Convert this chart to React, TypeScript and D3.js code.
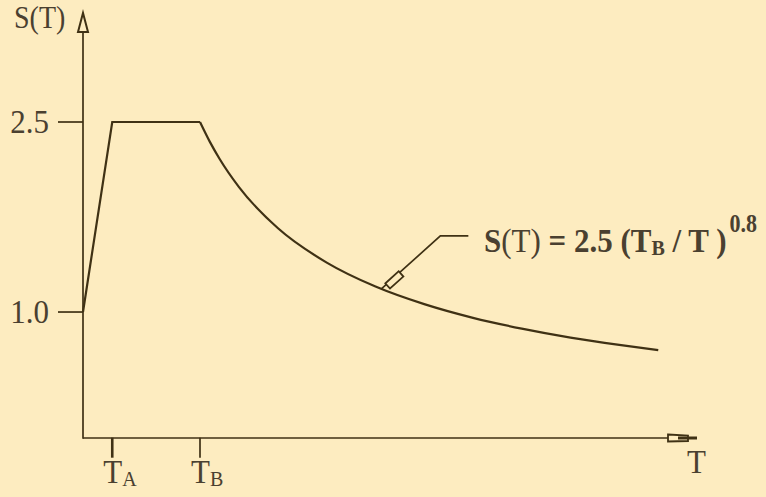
import React from "react";
import * as d3 from "d3";

// spectrum
const T_A = 0.15;
const T_B = 0.6;
const yTicks = [1.0, 2.5];
const yTickLabels = ["1.0", "2.5"];
const rampT = [0, T_A, T_B];
const rampS = [1.0, 2.5, 2.5];
const decayT = [0.6, 0.65, 0.7, 0.8, 1.0, 1.25, 1.5, 1.75, 2.0, 2.25, 2.5, 2.75, 2.95];
const decayS = [2.5, 2.345, 2.21, 1.986, 1.661, 1.39, 1.201, 1.062, 0.954, 0.869, 0.798, 0.74, 0.699];
const pointerT = 1.53;

const W = 766;
const H = 497;
const bg = "#fdecc0";
const ink = "#3f3114";
const txt = "#4a4030";
const font = "'Liberation Serif', 'Times New Roman', serif";

// serif text, slightly stretched vertically like the scan
const Label = ({ x, y, anchor = "start", size = 31, children }: any) => (
  <text transform={`translate(${x},${y}) scale(1,1.1)`} textAnchor={anchor} fontSize={size} fill={txt}>
    {children}
  </text>
);

export default function App() {
  const x = d3.scaleLinear().domain([0, 3]).range([83, 668]);
  const y = d3.scaleLinear().domain([0, 2.5]).range([438.7, 122]);
  const line = d3.line<[number, number]>().x(d => x(d[0])).y(d => y(d[1]));
  const curve = d3.line<[number, number]>().x(d => x(d[0])).y(d => y(d[1])).curve(d3.curveMonotoneX);

  const ramp = rampT.map((t, i) => [t, rampS[i]] as [number, number]);
  const decay = decayT.map((t, i) => [t, decayS[i]] as [number, number]);

  const x0 = x(0);
  const y0 = y(0);
  const px = x(pointerT);
  const py = y(2.5 * Math.pow(T_B / pointerT, 0.8));
  const kx = px + 59, ky = py - 53;

  return (
    <div style={{ position: "absolute", left: 0, top: 0 }}>
      <svg width={W} height={H} style={{ display: "block", background: bg }} fontFamily={font}>
        <rect width={W} height={H} fill={bg} />
        {/* axes */}
        <line x1={x0} x2={x0} y1={y0} y2={32} stroke={ink} strokeWidth={1.7} />
        <path d={`M${x0 - 5},32 L${x0},13 L${x0 + 5},32 Z`} fill="none" stroke={ink} strokeWidth={2} />
        <line x1={x0} x2={x(3)} y1={y0 - 0.7} y2={y0 - 0.7} stroke={ink} strokeWidth={1.7} />
        <path d={`M${x(3)},434.5 L${x(3) + 20},435.5 L${x(3) + 20},441 L${x(3)},441.5 Z`} fill="none" stroke={ink} strokeWidth={1.8} />
        <path d={`M${x(3) + 10},438 L${x(3) + 29},438`} stroke={ink} strokeWidth={3} />

        {yTicks.map((v, i) => (
          <g key={v}>
            <line x1={x0 - 25} x2={x0} y1={y(v)} y2={y(v)} stroke={ink} strokeWidth={1.7} />
            <Label x={x0 - 34} y={y(v) + 11} anchor="end">{yTickLabels[i]}</Label>
          </g>
        ))}
        {[T_A, T_B].map((t, i) => (
          <g key={t}>
            <line x1={x(t)} x2={x(t)} y1={y0 - 1} y2={y0 + 19} stroke={ink} strokeWidth={i === 0 ? 2.6 : 1.7} />
            <Label x={x(t) - 9} y={483}>
              T<tspan fontSize={20} dy={3}>{i === 0 ? "A" : "B"}</tspan>
            </Label>
          </g>
        ))}

        <Label x={14} y={28} size={28}>S(T)</Label>
        <Label x={687} y={473}>T</Label>

        {/* spectrum */}
        <path d={line(ramp) ?? ""} fill="none" stroke={ink} strokeWidth={2.2} />
        <path d={curve(decay) ?? ""} fill="none" stroke={ink} strokeWidth={2.2} />

        {/* annotation */}
        <polyline points={`${px},${py} ${kx},${ky} ${kx + 28},${ky}`} fill="none" stroke={ink} strokeWidth={1.7} />
        <g transform={`translate(${px + 13},${py - 9}) rotate(-42)`}>
          <rect x={-9} y={-3.5} width={18} height={7} fill={bg} stroke={ink} strokeWidth={1.8} />
        </g>
        <Label x={484} y={252} size={31}>
          <tspan fontWeight="bold">S</tspan>
          <tspan>(T)</tspan>
          <tspan fontWeight="bold"> = 2.5 (T</tspan>
          <tspan fontWeight="bold" fontSize={20} dy={3}>B</tspan>
          <tspan fontWeight="bold" dy={-3}> / T )</tspan>
          <tspan fontWeight="bold" fontSize={22} dy={-18} dx={3}>0.8</tspan>
        </Label>
      </svg>
    </div>
  );
}
